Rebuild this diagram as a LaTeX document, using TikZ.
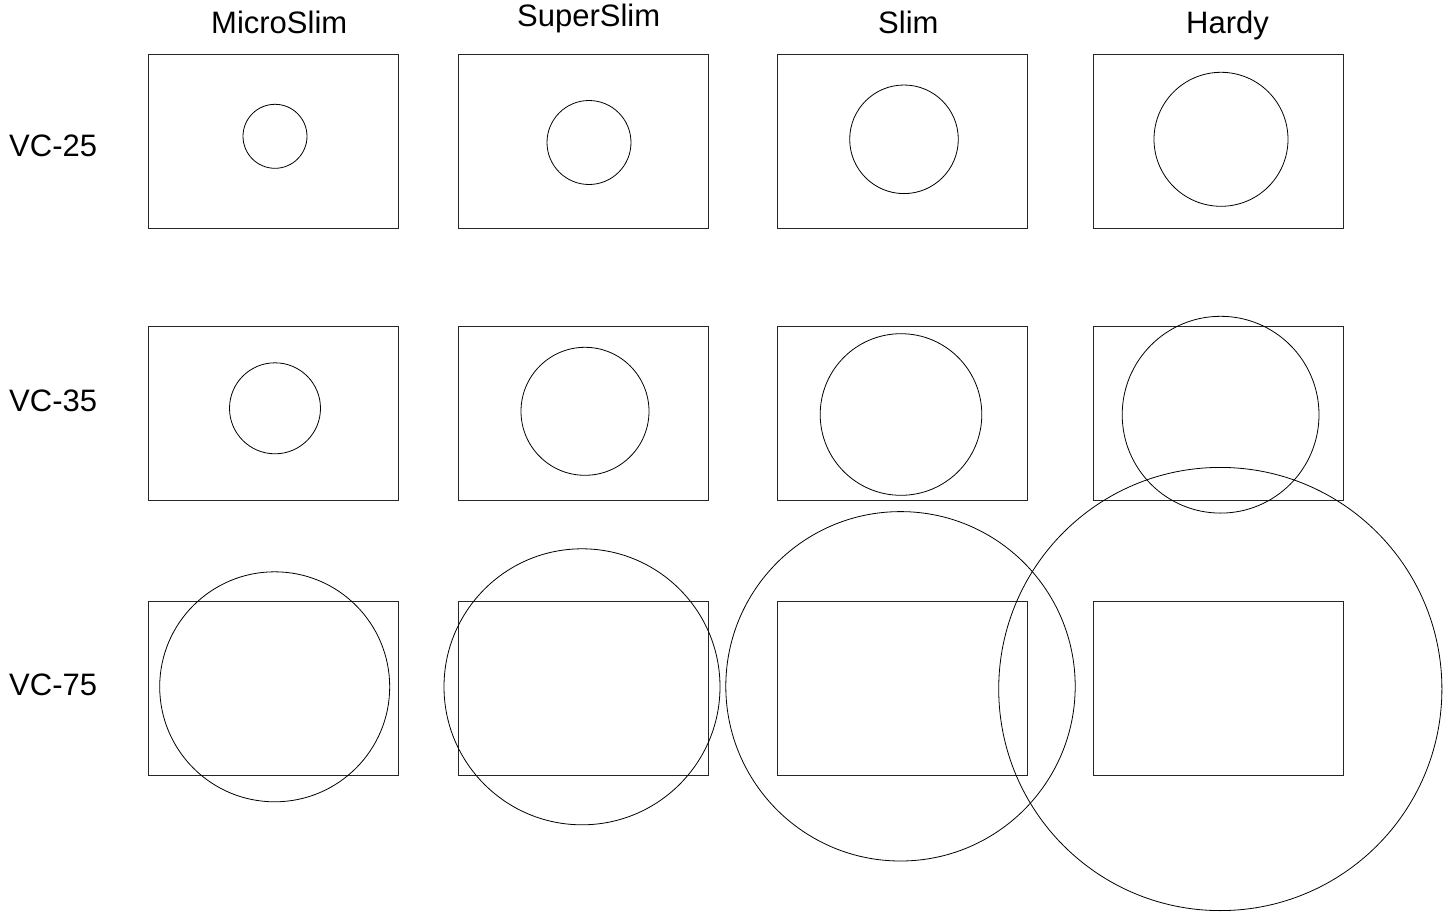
\documentclass[tikz,border=0pt]{standalone}
\usepackage{fontspec}
\setmainfont{Liberation Sans}
\begin{document}
\begin{tikzpicture}[x=1pt,y=-1pt,
  panel/.style={draw=black!85,line width=1pt},
  ring/.style={draw=black,line width=0.8pt},
  lbl/.style={anchor=base west,inner sep=0pt,font=\fontsize{31}{37}\selectfont}]
\useasboundingbox (0,0) rectangle (1452,913);
% column headers
\node[lbl] (hMicro) at (211,33) {MicroSlim};
\node[lbl] (hSuper) at (517,26.5) {SuperSlim};
\node[lbl] (hSlim)  at (878,33) {Slim};
\node[lbl] (hHardy) at (1186,33) {Hardy};
% row labels
\node[lbl] (r25) at (9,156) {VC-25};
\node[lbl] (r35) at (9,411) {VC-35};
\node[lbl] (r75) at (9,695.5) {VC-75};
% rectangles
\foreach \x in {148,458,777,1093}{
  \foreach \y in {54,326,601}{
    \draw[panel] (\x,\y) rectangle ++(250,174);
  }
}
% VC-25 circles
\draw[ring] (275,136.3) circle (32);
\draw[ring] (589,142.5) circle (42);
\draw[ring] (904,139.3) circle (54.3);
\draw[ring] (1221,139.3) circle (67);
% VC-35 circles
\draw[ring] (275,408.3) circle (45.5);
\draw[ring] (585,411.3) circle (64);
\draw[ring] (901,414.5) circle (80.8);
\draw[ring] (1220.6,414.7) circle (98.4);
% VC-75 circles
\draw[ring] (274.7,686.8) circle (115);
\draw[ring] (582,686.8) circle (138);
\draw[ring] (900.5,686.3) circle (174.7);
\draw[ring] (1220.3,689) circle (221.6);
\end{tikzpicture}
\end{document}
